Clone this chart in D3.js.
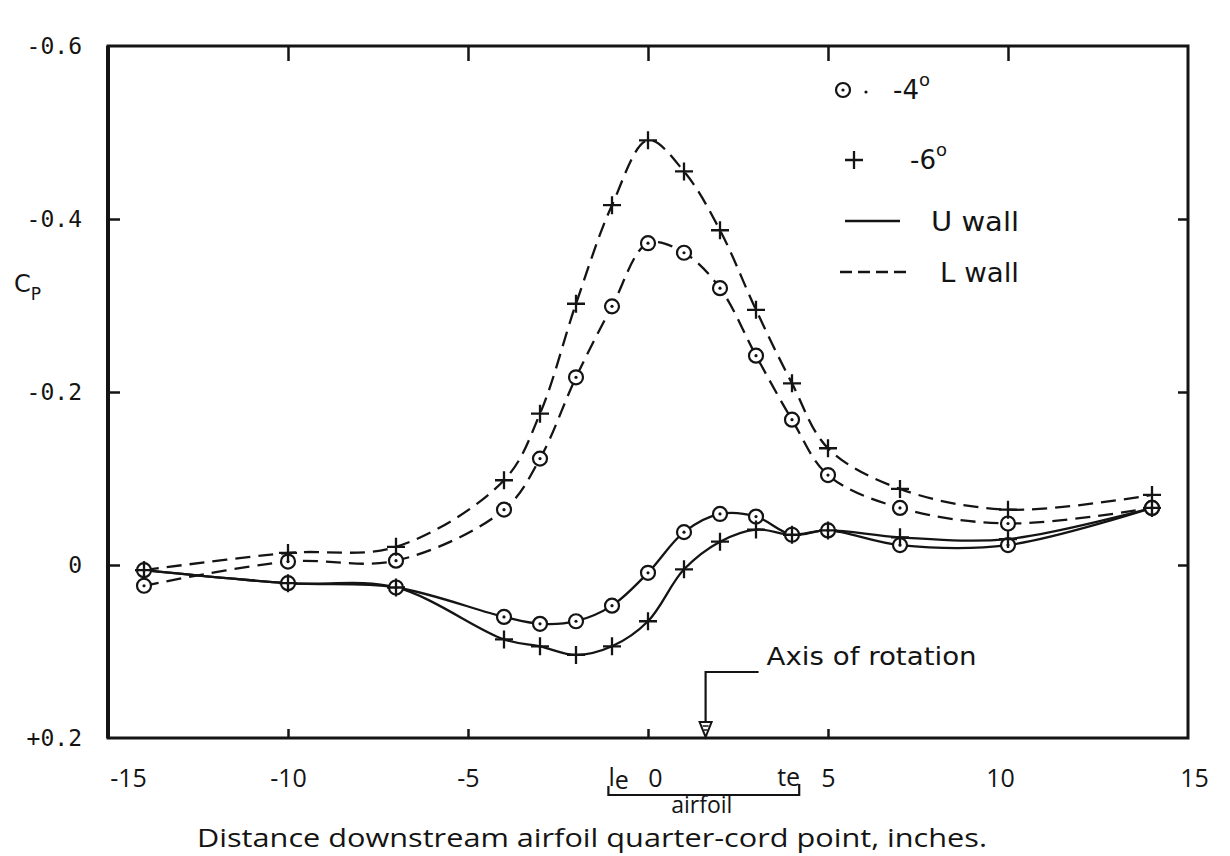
<!DOCTYPE html>
<html><head><meta charset="utf-8">
<script src="https://cdn.jsdelivr.net/npm/d3@7"></script>
<style>body{margin:0;background:#fff}svg{display:block}</style>
</head><body><svg id="c" width="1230" height="856"></svg>
<script>
// ---- data (distance in inches, pressure coefficient Cp) ----
const positions       = [-14, -10, -7, -4, -3, -2, -1, 0, 1, 2, 3, 4, 5, 7, 10, 14];
const lowerWallMinus4 = [0.024, -0.004, -0.005, -0.064, -0.123, -0.217, -0.299, -0.372, -0.361, -0.320, -0.242, -0.168, -0.104, -0.066, -0.048, -0.066];
const lowerWallMinus6 = [0.006, -0.014, -0.021, -0.098, -0.175, -0.302, -0.416, -0.491, -0.455, -0.387, -0.295, -0.210, -0.135, -0.088, -0.064, -0.081];
const upperWallMinus4 = [0.006, 0.021, 0.026, 0.060, 0.068, 0.065, 0.047, 0.009, -0.038, -0.059, -0.056, -0.035, -0.040, -0.023, -0.023, -0.066];
const upperWallMinus6 = [0.006, 0.021, 0.026, 0.086, 0.094, 0.104, 0.094, 0.065, 0.005, -0.027, -0.041, -0.035, -0.040, -0.032, -0.030, -0.066];

const xTicks = [-15, -10, -5, 0, 5, 10, 15];
const xTickLabels = ["-15", "-10", "-5", "0", "5", "10", "15"];
const yTicks = [-0.6, -0.4, -0.2, 0, 0.2];
const yTickLabels = ["-0.6", "-0.4", "-0.2", "0", "+0.2"];
const legendAngles = ["-4", "-6"];
const legendWalls = ["U wall", "L wall"];
const axisOfRotation = 1.6;
const airfoilLE = -1.1, airfoilTE = 4.2;

const series = [
  {vals: lowerWallMinus4, marker: "circle", dash: true},
  {vals: lowerWallMinus6, marker: "plus",   dash: true},
  {vals: upperWallMinus4, marker: "circle", dash: false},
  {vals: upperWallMinus6, marker: "plus",   dash: false}
];

const ink = "#141414";
const svg = d3.select("#c");
const x = d3.scaleLinear().domain([-15, 15]).range([108, 1188]);
const y = d3.scaleLinear().domain([-0.6, 0.2]).range([46, 738]);

// frame
svg.append("rect").attr("x", x(-15)).attr("y", y(-0.6))
  .attr("width", x(15) - x(-15)).attr("height", y(0.2) - y(-0.6))
  .attr("fill", "none").attr("stroke", ink).attr("stroke-width", 3);
svg.append("line").attr("x1", x(-15)).attr("x2", x(-15)).attr("y1", y(-0.6)).attr("y2", y(0.2))
  .attr("stroke", ink).attr("stroke-width", 4);

// y axis (left) with labels
const yAxis = svg.append("g").attr("transform", `translate(${x(-15)},0)`)
  .call(d3.axisLeft(y).tickValues(yTicks).tickFormat((d, i) => yTickLabels[i]).tickSize(-12).tickPadding(26));
yAxis.select(".domain").remove();
yAxis.selectAll("line").attr("stroke", ink).attr("stroke-width", 2.5)
  .filter(d => d === -0.6 || d === 0.2).remove();
yAxis.selectAll("text").attr("font-family", "'DejaVu Sans Mono', monospace").attr("font-size", 23).attr("fill", ink);

// right ticks
const yAxisR = svg.append("g").attr("transform", `translate(${x(15)},0)`)
  .call(d3.axisRight(y).tickValues([-0.4, -0.2, 0]).tickFormat("").tickSize(-10));
yAxisR.select(".domain").remove();
yAxisR.selectAll("line").attr("stroke", ink).attr("stroke-width", 2.5);

// top ticks
const xAxisT = svg.append("g").attr("transform", `translate(0,${y(-0.6)})`)
  .call(d3.axisTop(x).tickValues([-10, -5, 0, 5, 10]).tickFormat("").tickSize(-15));
xAxisT.select(".domain").remove();
xAxisT.selectAll("line").attr("stroke", ink).attr("stroke-width", 2.5);

// bottom axis with labels
const xAxisB = svg.append("g").attr("transform", `translate(0,${y(0.2)})`)
  .call(d3.axisBottom(x).tickValues(xTicks).tickFormat((d, i) => xTickLabels[i]).tickSize(-9).tickPadding(31));
xAxisB.select(".domain").remove();
xAxisB.selectAll("line").attr("stroke", ink).attr("stroke-width", 2.5)
  .filter(d => d === -15 || d === 15 || d === 10).remove();
xAxisB.selectAll("text").attr("font-family", "'Liberation Sans Narrow', 'Open Sans', sans-serif")
  .attr("font-size", 25).attr("fill", ink)
  .attr("dx", d => d === -15 ? 20 : (d === 0 ? 7 : (d === 10 ? -8 : (d === 15 ? 6 : 0))));

// y title
const cp = svg.append("text").attr("x", 14).attr("y", 292)
  .attr("font-family", "'DejaVu Sans', sans-serif").attr("font-size", 24).attr("fill", ink).text("C");
cp.append("tspan").attr("font-size", 17).attr("dy", 8).text("P");

// x title
svg.append("text").attr("x", 592).attr("y", 847).attr("text-anchor", "middle")
  .attr("font-family", "'Liberation Sans Narrow', 'Open Sans', sans-serif").attr("font-size", 25)
  .attr("fill", ink).attr("textLength", 790).attr("lengthAdjust", "spacingAndGlyphs")
  .text("Distance downstream airfoil quarter-cord point, inches.");

// airfoil bracket
const fx = "'Liberation Sans Narrow', 'Open Sans', sans-serif";
const le = svg.append("text").attr("x", x(airfoilLE)).attr("y", 786).attr("font-family", fx).attr("font-size", 25).attr("fill", ink).text("l");
le.append("tspan").attr("dy", 3).text("e");
svg.append("text").attr("x", x(airfoilTE) - 22).attr("y", 786).attr("font-family", fx).attr("font-size", 25).attr("fill", ink).text("te");
svg.append("path").attr("d", `M${x(airfoilLE)},786 V795 H${x(airfoilTE)} V784`)
  .attr("fill", "none").attr("stroke", ink).attr("stroke-width", 2.2);
svg.append("text").attr("x", (x(airfoilLE) + x(airfoilTE)) / 2 - 2).attr("y", 813).attr("text-anchor", "middle")
  .attr("font-family", fx).attr("font-size", 23).attr("fill", ink).text("airfoil");

// axis of rotation
const ax = x(axisOfRotation);
svg.append("path").attr("d", `M${ax + 53},672 H${ax} V724`).attr("fill", "none").attr("stroke", ink).attr("stroke-width", 2.2);
svg.append("path").attr("d", `M${ax - 6},722 H${ax + 6} L${ax},${y(0.2) - 1} Z`).attr("fill", "#fff").attr("stroke", ink).attr("stroke-width", 2);
svg.append("path").attr("d", `M${ax - 3},726 H${ax + 3} M${ax - 2},730 H${ax + 2}`).attr("stroke", ink).attr("stroke-width", 1.5);
svg.append("text").attr("x", ax + 61).attr("y", 665).attr("font-family", "'DejaVu Sans', sans-serif")
  .attr("font-size", 24).attr("fill", ink).attr("textLength", 210).attr("lengthAdjust", "spacingAndGlyphs").text("Axis of rotation");

// curves
const line = d3.line().x(d => x(d[0])).y(d => y(d[1])).curve(d3.curveCatmullRom.alpha(0.5));
const gLines = svg.append("g");
series.forEach(s => {
  gLines.append("path").datum(positions.map((p, i) => [p, s.vals[i]]))
    .attr("d", line).attr("fill", "none").attr("stroke", ink).attr("stroke-width", 2.3)
    .attr("stroke-dasharray", s.dash ? "15,8" : null);
});

// markers
function drawMarker(g, type, cx, cy) {
  if (type === "circle") {
    g.append("circle").attr("cx", cx).attr("cy", cy).attr("r", 7).attr("fill", "#fff").attr("stroke", ink).attr("stroke-width", 2.2);
    g.append("circle").attr("cx", cx).attr("cy", cy).attr("r", 1.6).attr("fill", ink);
  } else {
    g.append("path").attr("d", `M${cx - 9},${cy} H${cx + 9} M${cx},${cy - 9} V${cy + 9}`)
      .attr("stroke", ink).attr("stroke-width", 2.3).attr("fill", "none");
  }
}
const gMarks = svg.append("g");
series.forEach(s => positions.forEach((p, i) => drawMarker(gMarks, s.marker, x(p), y(s.vals[i]))));

// legend
const lg = svg.append("g");
const legRows = [90, 160, 221, 272];
drawMarker(lg, "circle", 843, legRows[0]);
lg.append("circle").attr("cx", 866).attr("cy", legRows[0] + 2).attr("r", 1.6).attr("fill", ink);
drawMarker(lg, "plus", 854, legRows[1]);
legendAngles.forEach((a, i) => {
  const t = lg.append("text").attr("x", 893 + i * 17).attr("y", legRows[i] + 9)
    .attr("font-family", "'DejaVu Sans', sans-serif").attr("font-size", 26).attr("fill", ink).text(a);
  t.append("tspan").attr("font-size", 18).attr("dy", -13).text("o");
});
lg.append("line").attr("x1", 845).attr("x2", 900).attr("y1", legRows[2]).attr("y2", legRows[2]).attr("stroke", ink).attr("stroke-width", 2.6);
lg.append("line").attr("x1", 840).attr("x2", 910).attr("y1", legRows[3]).attr("y2", legRows[3]).attr("stroke", ink).attr("stroke-width", 2.6).attr("stroke-dasharray", "12,6");
legendWalls.forEach((w, i) => {
  lg.append("text").attr("x", 931 + i * 9).attr("y", legRows[2 + i] + 10)
    .attr("font-family", "'DejaVu Sans', sans-serif").attr("font-size", 26).attr("fill", ink)
    .attr("textLength", 88 - i * 9).attr("lengthAdjust", "spacingAndGlyphs").text(w);
});
</script></body></html>
